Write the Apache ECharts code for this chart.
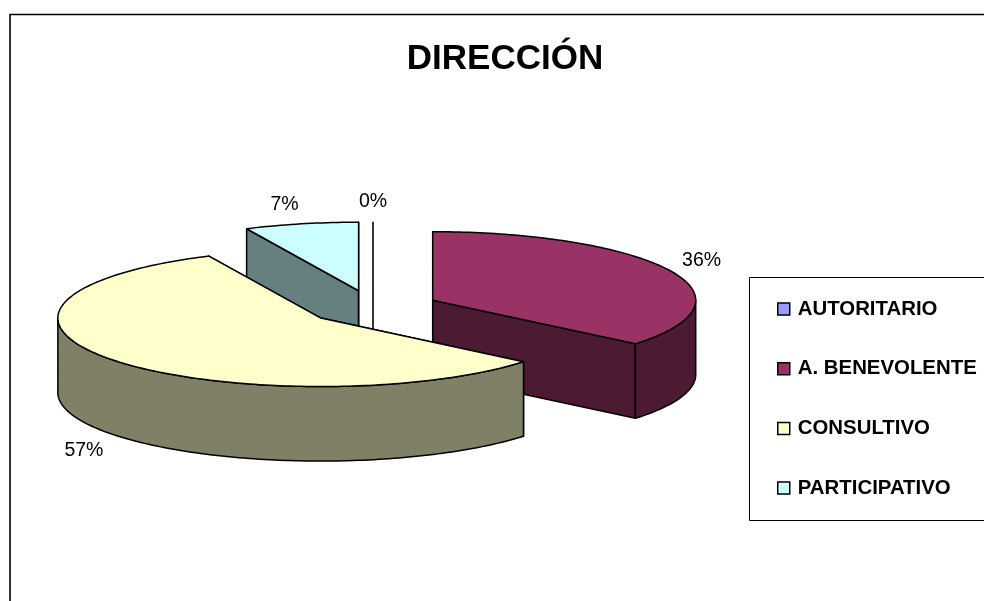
<!DOCTYPE html>
<html><head><meta charset="utf-8">
<style>html,body{margin:0;padding:0;background:#fff}#c{width:984px;height:601px}</style>
<script src="https://cdn.jsdelivr.net/npm/echarts@6/dist/echarts.min.js"></script>
</head><body><div id="c"></div>
<script>
const titleText = 'DIRECCIÓN';
const categories = ['AUTORITARIO', 'A. BENEVOLENTE', 'CONSULTIVO', 'PARTICIPATIVO'];
const values = [0, 36, 57, 7];
const topColors = ['#9999FF', '#993366', '#FFFFCC', '#CCFFFF'];
const sideColors = ['#4D4D80', '#4D1A33', '#808066', '#668080'];
const paintOrder = [3, 0, 1, 2];
const labelReach = [1.29, 1.13, 1.14, 1.29];
const labelShiftY = [0, -7, 10, 0];

const cx = 373, cy = 307.5, rx = 263, ry = 68.5, depth = 74.5, explode = 66;
const total = values.reduce((a, b) => a + b, 0);
const TAU = Math.PI * 2;
const FONT = '"Liberation Sans", Arial, sans-serif';

function sliceAngles(i) {
  let before = 0;
  for (let k = 0; k < i; k++) before += values[k];
  return [before / total * TAU, (before + values[i]) / total * TAU];
}
function arc(ox, oy, a, b) {
  const pts = [], n = Math.max(1, Math.ceil(Math.abs(b - a) / 0.02));
  for (let k = 0; k <= n; k++) {
    const t = a + (b - a) * k / n;
    pts.push([ox + rx * Math.sin(t), oy - ry * Math.cos(t)]);
  }
  return pts;
}
function poly(points, fill, w) {
  return { type: 'polygon', shape: { points }, style: { fill, stroke: '#000', lineWidth: w || 1.5, lineJoin: 'round' } };
}
function renderSlice(params, api) {
  const i = params.seriesIndex, v = api.value(0);
  const [a, b] = sliceAngles(i), mid = (a + b) / 2;
  const ox = cx + explode * Math.sin(mid), oy = cy - explode * (ry / rx) * Math.cos(mid);
  const children = [];
  if (v === 0) {
    children.push({ type: 'line', shape: { x1: ox, y1: oy - ry, x2: ox, y2: oy + depth }, style: { stroke: '#000', lineWidth: 1.6 } });
  } else {
    [a, b].forEach(t => {
      const e = [ox + rx * Math.sin(t), oy - ry * Math.cos(t)];
      children.push(poly([[ox, oy], e, [e[0], e[1] + depth], [ox, oy + depth]], sideColors[i]));
    });
    const fa = Math.max(a, Math.PI / 2), fb = Math.min(b, Math.PI * 1.5);
    if (fb > fa) {
      const upper = arc(ox, oy, fa, fb);
      const lower = upper.map(p => [p[0], p[1] + depth]).reverse();
      children.push(poly(upper.concat(lower), sideColors[i]));
    }
    children.push(poly([[ox, oy]].concat(arc(ox, oy, a, b)), topColors[i]));
  }
  const f = labelReach[i];
  const lx = ox + rx * f * Math.sin(mid);
  const front = Math.cos(mid) < 0 ? depth : 0;
  const ly = oy - ry * f * Math.cos(mid) + front + labelShiftY[i];
  children.push({
    type: 'text', z2: 50,
    style: { x: lx, y: ly, text: Math.round(v / total * 100) + '%', fill: '#000', font: '19.5px ' + FONT, align: 'center', verticalAlign: 'middle' }
  });
  return { type: 'group', children };
}

const chart = echarts.init(document.getElementById('c'), null, { renderer: 'canvas' });
chart.setOption({
  animation: false,
  backgroundColor: '#fff',
  title: {
    text: titleText, left: 505, top: 59, textAlign: 'center', textVerticalAlign: 'middle', padding: 0,
    textStyle: { fontFamily: FONT, fontWeight: 'bold', fontSize: 35, color: '#000' }
  },
  legend: {
    orient: 'vertical', left: 777, top: 299, padding: 0, itemGap: 39.7,
    itemWidth: 12, itemHeight: 12, icon: 'rect',
    selectedMode: false,
    textStyle: { fontFamily: FONT, fontWeight: 'bold', fontSize: 20.4, color: '#000', padding: [0, 0, 0, 3] },
    height: 240,
    data: categories.map((name, i) => ({
      name, icon: 'rect',
      itemStyle: { color: topColors[i], borderColor: '#000', borderWidth: 1.5 }
    }))
  },
  graphic: [
    { type: 'polyline', silent: true, shape: { points: [[10, 640], [10, 14.5], [1020, 14.5]] }, style: { fill: 'none', stroke: '#000', lineWidth: 1.6 } },
    { type: 'polyline', silent: true, shape: { points: [[1020, 277.5], [749.5, 277.5], [749.5, 520.5], [1020, 520.5]] }, style: { fill: 'none', stroke: '#000', lineWidth: 1 } }
  ],
  series: categories.map((name, i) => ({
    type: 'custom', name, coordinateSystem: 'none', silent: true,
    z: 2 + paintOrder.indexOf(i),
    itemStyle: { color: topColors[i] },
    renderItem: renderSlice,
    data: [[values[i]]]
  }))
});
</script></body></html>
